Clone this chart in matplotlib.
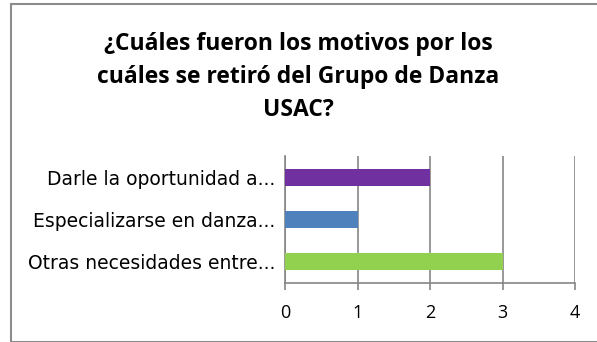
import matplotlib
matplotlib.use('Agg')

import matplotlib.pyplot as plt
from matplotlib.patches import Rectangle

# categories listed bottom to top (barh draws from the bottom)
categories = ['Otras necesidades entre...', 'Especializarse en danza...', 'Darle la oportunidad a...']
values = [3, 1, 2]
colors = ['#92d050', '#4f81bd', '#7030a0']
xticks = [0, 1, 2, 3, 4]
title = '¿Cuáles fueron los motivos por los\ncuáles se retiró del Grupo de Danza\nUSAC?'

plt.rcParams['font.family'] = ['Open Sans', 'DejaVu Sans']

W, H = 597, 342
fig = plt.figure(figsize=(W / 100, H / 100), dpi=100)

# chart area border (runs off the right and bottom edges)
fig.patches.append(Rectangle((11 / W, 0), 1.0, 1 - 3.5 / H, transform=fig.transFigure,
                             fill=False, edgecolor='#8c8c8c', linewidth=1.5))

ax = fig.add_axes([285 / W, 1 - 283 / H, 290 / W, 127 / H])
ax.barh(range(len(categories)), values, height=0.4, color=colors, zorder=3)

ax.set_xlim(0, 4)
ax.set_ylim(-0.5, 2.5)
ax.set_xticks(xticks)
ax.set_yticks(range(len(categories)))
ax.set_yticklabels(categories, family='DejaVu Sans')
ax.grid(axis='x', color='#868686', linewidth=1.2, zorder=0)

for side in ['top', 'right']:
    ax.spines[side].set_visible(False)
for side in ['left', 'bottom']:
    ax.spines[side].set_color('#868686')
    ax.spines[side].set_linewidth(1.2)

ax.tick_params(axis='x', length=5, width=1.2, color='#868686', pad=10, labelsize=13)
ax.tick_params(axis='y', length=0, pad=7, labelsize=13.5)

fig.text(0.5, 1 - 77 / H, title, ha='center', va='center', fontsize=16.5,
         fontweight='bold', linespacing=1.52)

fig.savefig('out.png', dpi=100)
